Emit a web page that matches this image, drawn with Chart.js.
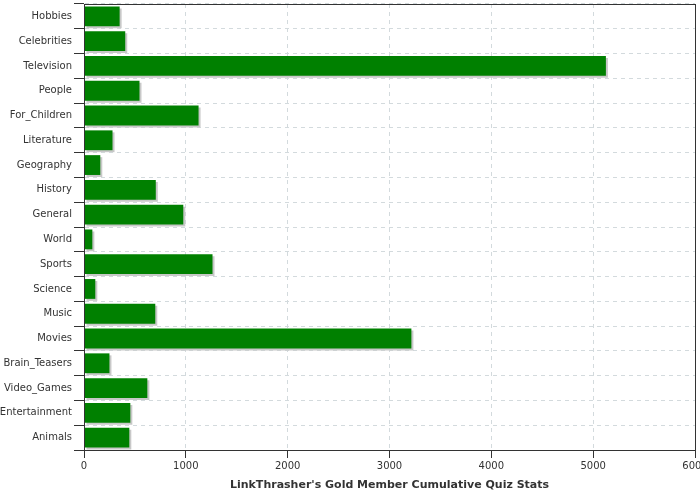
<!DOCTYPE html>
<html>
<head>
<meta charset="utf-8">
<script src="https://cdn.jsdelivr.net/npm/chart.js@4/dist/chart.umd.min.js"></script>
<style>
    body { margin: 0; background: #ffffff; }
    #wrap { width: 700px; height: 500px; }
</style>
</head>
<body>
<div id="wrap"><canvas id="quizChart"></canvas></div>
<script>
const categories = ['Hobbies', 'Celebrities', 'Television', 'People', 'For_Children', 'Literature', 'Geography', 'History', 'General', 'World', 'Sports', 'Science', 'Music', 'Movies', 'Brain_Teasers', 'Video_Games', 'Entertainment', 'Animals'];
const quizStats = [350, 405, 5125, 545, 1125, 280, 160, 705, 975, 82, 1262, 111, 700, 3215, 250, 622, 455, 445];
const xTicks = [0, 1000, 2000, 3000, 4000, 5000, 6000];

Chart.defaults.font.family = '"DejaVu Sans", sans-serif';
Chart.defaults.font.size = 10;
Chart.defaults.color = '#333333';

// Gray drop shadow under the bars
const barShadow = {
    id: 'barShadow',
    beforeDatasetsDraw(chart) {
        const ctx = chart.ctx;
        ctx.save();
        ctx.shadowColor = '#c8c8c8';
        ctx.shadowOffsetX = 2;
        ctx.shadowOffsetY = 2;
        ctx.shadowBlur = 0;
    },
    afterDatasetsDraw(chart) {
        chart.ctx.restore();
    }
};

// Dark frame round the plot area
const plotFrame = {
    id: 'plotFrame',
    afterDraw(chart) {
        const { ctx, chartArea } = chart;
        ctx.save();
        ctx.strokeStyle = '#333333';
        ctx.lineWidth = 1;
        ctx.strokeRect(Math.round(chartArea.left) + 0.5, Math.round(chartArea.top) + 0.5,
            Math.round(chartArea.right - chartArea.left), Math.round(chartArea.bottom - chartArea.top));
        ctx.restore();
    }
};

// no extra room for the edge labels, the last x label is cut off like the original
function noEdgePadding(axis) {
    axis.paddingLeft = 0;
    axis.paddingRight = 0;
    axis.paddingTop = 0;
    axis.paddingBottom = 0;
}

const ctxQuiz = document.getElementById('quizChart').getContext('2d');
const quizChart = new Chart(ctxQuiz, {
    type: 'bar',
    data: {
        labels: categories,
        datasets: [{
            label: 'Quiz Stats',
            data: quizStats,
            backgroundColor: '#008000',
            borderWidth: 0,
            barPercentage: 0.8,
            categoryPercentage: 1.0
        }]
    },
    options: {
        indexAxis: 'y',
        responsive: true,
        maintainAspectRatio: false,
        animation: false,
        layout: {
            padding: { top: 4, right: 5, left: 0, bottom: 0 }
        },
        scales: {
            x: {
                min: 0,
                max: 6000,
                afterBuildTicks: function(axis) { axis.ticks = xTicks.map(v => ({ value: v })); },
                afterFit: function(axis) { axis.height = 50; noEdgePadding(axis); },
                ticks: {
                    color: '#333333',
                    padding: 2,
                    callback: function(value) { return String(value); }
                },
                grid: {
                    color: '#d3dadd',
                    tickColor: '#333333',
                    tickLength: 8
                },
                border: {
                    color: '#333333',
                    dash: [4, 4]
                },
                title: {
                    display: true,
                    text: "LinkThrasher's Gold Member Cumulative Quiz Stats",
                    color: '#333333',
                    font: { size: 11, weight: 'bold' },
                    padding: { top: 4, bottom: 8 }
                }
            },
            y: {
                afterFit: function(axis) { axis.width = 84; noEdgePadding(axis); },
                ticks: {
                    color: '#333333',
                    padding: 2
                },
                grid: {
                    color: '#d3dadd',
                    tickColor: '#333333',
                    tickLength: 10
                },
                border: {
                    color: '#333333',
                    dash: [4, 4]
                }
            }
        },
        plugins: {
            legend: { display: false },
            tooltip: { enabled: false }
        }
    },
    plugins: [barShadow, plotFrame]
});
</script>
</body>
</html>
